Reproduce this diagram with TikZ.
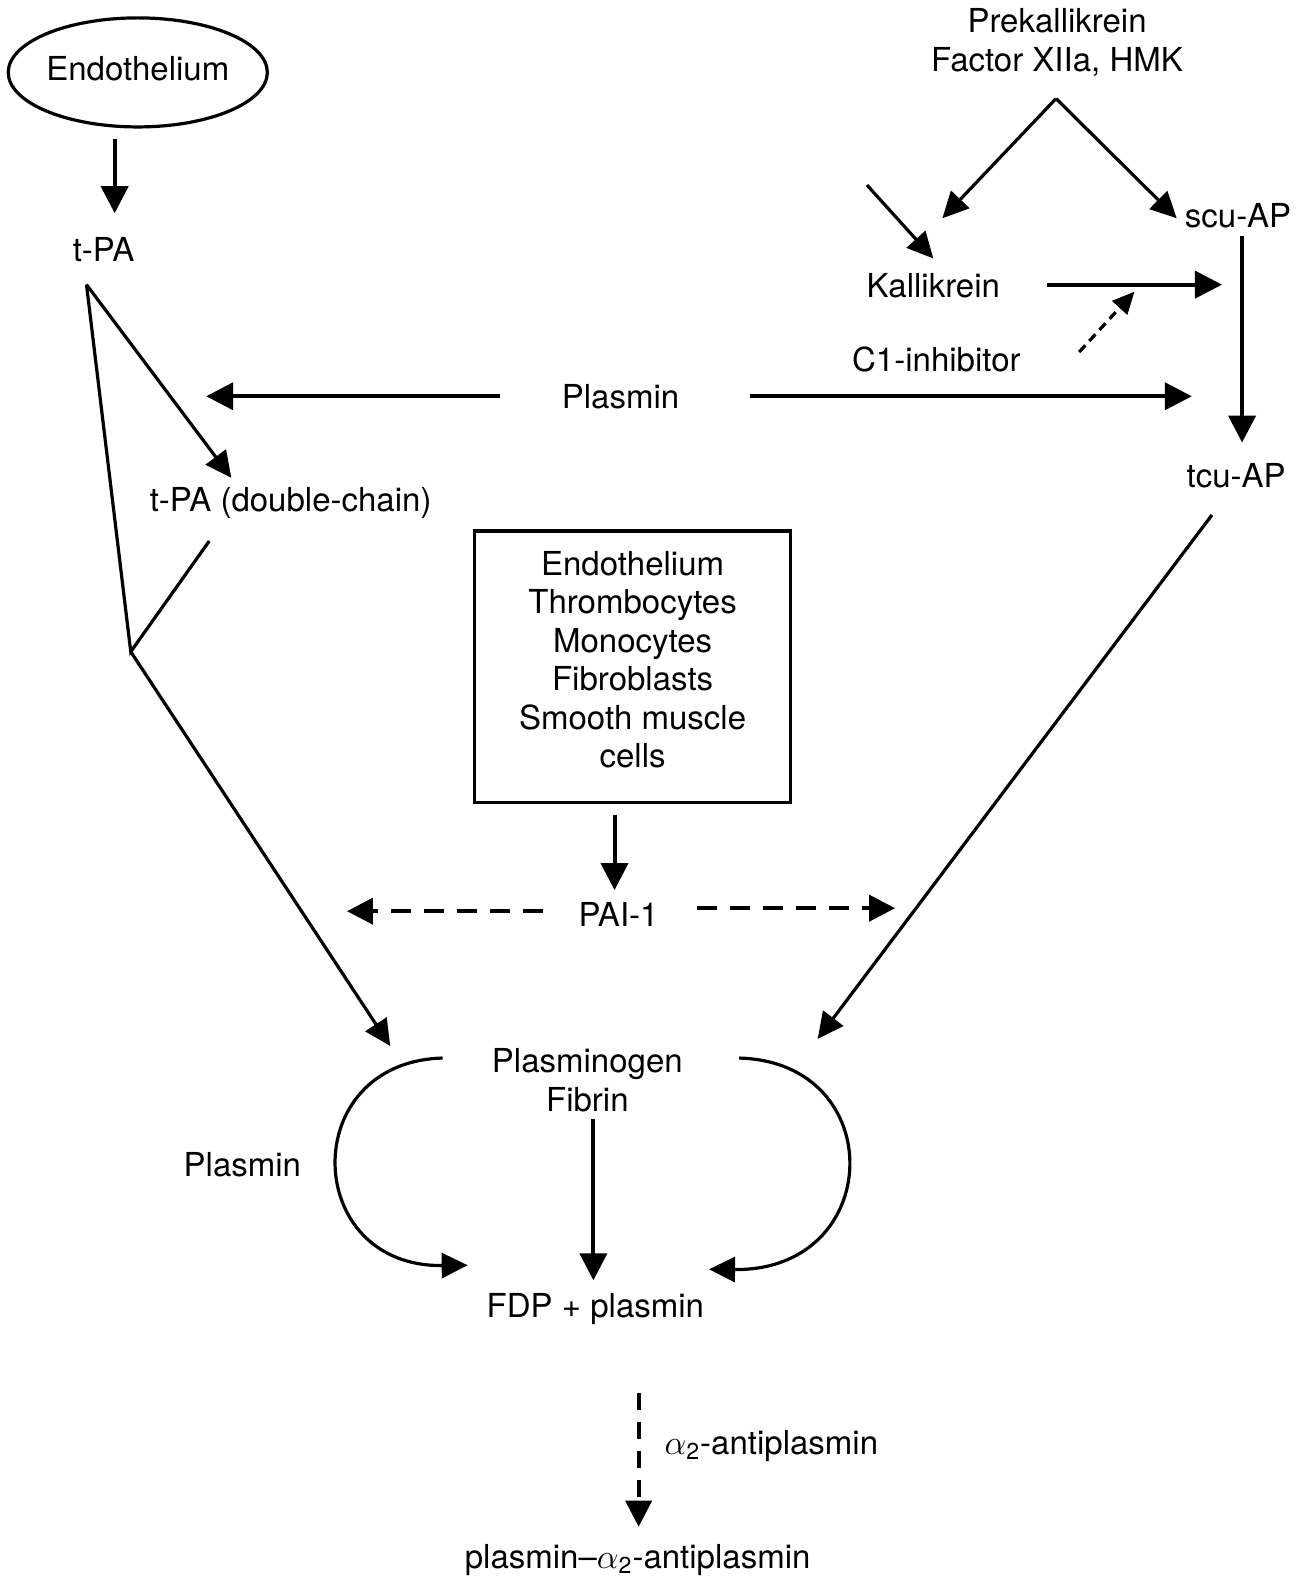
\documentclass[tikz,border=0pt]{standalone}
\usepackage{fontspec}
\setmainfont{TeX Gyre Heros}
\usetikzlibrary{arrows.meta,shapes.geometric}
\begin{document}
\begin{tikzpicture}[x=0.5027pt,y=-0.5027pt,
  every node/.style={font=\fontsize{16.5}{19.2}\selectfont, inner sep=0pt, align=center},
  tip/.style={-{Triangle[length=13.5pt,width=13.5pt]}},
  arr/.style={line width=2pt, tip},
  tharr/.style={line width=1.6pt, -{Triangle[length=13pt,width=12.5pt]}},
  thin/.style={line width=1.6pt},
  dasharr/.style={line width=2pt, dash pattern=on 10pt off 6.5pt, -{Triangle[length=13pt,width=13pt]}},
  smalldash/.style={line width=1.6pt, dash pattern=on 4.5pt off 3pt, -{Triangle[length=11pt,width=10pt]}},
  vdash/.style={line width=2pt, dash pattern=on 8.5pt off 6pt, -{Triangle[length=13pt,width=13pt]}}]
\useasboundingbox (0,0) rectangle (1295,1568);

% nodes
\node[draw, ellipse, line width=1.6pt, minimum width=129.5pt, minimum height=54.5pt] (endo) at (137,72) {};
\node (endotext) at (137,68) {Endothelium};
\node (tpa) at (103,248) {t-PA};
\node (tpad) at (289,500) {t-PA (double-chain)};
\node (plt) at (617,394) {Plasmin};
\node (prek) at (1051,42) {Prekallikrein\\Factor XIIa, HMK};
\node (scu) at (1231,214) {scu-AP};
\node (kall) at (928,284) {Kallikrein};
\node (c1) at (931,357) {C1-inhibitor};
\node (tcu) at (1229,473) {tcu-AP};
\node[draw, line width=1.6pt, minimum width=158pt, minimum height=135.7pt] (box) at (629,663) {};
\node (boxtext) at (629,656)
  {Endothelium\\Thrombocytes\\Monocytes\\Fibroblasts\\Smooth muscle\\cells};
\node (pai) at (615,909) {PAI-1};
\node (plg) at (584,1074) {Plasminogen\\Fibrin};
\node (pll) at (241,1158) {Plasmin};
\node (fdp) at (592,1302) {FDP + plasmin};
\node (a2) at (767,1438) {$\alpha$\textsubscript{2}-antiplasmin};
\node (cx) at (634,1551) {plasmin--$\alpha$\textsubscript{2}-antiplasmin};

% coordinates
\coordinate (e1) at (114,138);  \coordinate (e2) at (114,212);
\coordinate (v1) at (86,283);   \coordinate (d1) at (230,475);
\coordinate (j) at (130,648);   \coordinate (d2) at (208,538);
\coordinate (p1) at (388,1040);
\coordinate (pl1) at (497,394); \coordinate (pl2) at (205,394);
\coordinate (pr1) at (746,394); \coordinate (pr2) at (1185,394);
\coordinate (k0) at (1050,98);  \coordinate (k1) at (937,217); \coordinate (k2) at (1170,217);
\coordinate (s1) at (862,184);  \coordinate (s2) at (928,257);
\coordinate (ka1) at (1041,283); \coordinate (ka2) at (1215,283);
\coordinate (c1a) at (1073,350); \coordinate (c1b) at (1128,290);
\coordinate (u1) at (1235,235); \coordinate (u2) at (1235,440);
\coordinate (t1) at (1205,512); \coordinate (t2) at (813,1033);
\coordinate (b1) at (611,810);  \coordinate (b2) at (611,885);
\coordinate (pa1) at (540,906); \coordinate (pa2) at (345,906);
\coordinate (pb1) at (693,903); \coordinate (pb2) at (890,903);
\coordinate (la) at (440,1052); \coordinate (lb) at (465,1258);
\coordinate (ra) at (735,1052); \coordinate (rb) at (705,1262);
\coordinate (m1) at (590,1113); \coordinate (m2) at (590,1273);
\coordinate (q1) at (635,1385); \coordinate (q2) at (635,1518);

% connectors
\draw[arr] (e1) -- (e2);
\draw[tharr] (v1) -- (d1);
\draw[thin, line join=miter] (d2) -- (j) -- (v1);
\draw[tharr] (j) -- (p1);
\draw[arr] (pl1) -- (pl2);
\draw[arr] (pr1) -- (pr2);
\draw[tharr] (k0) -- (k1);
\draw[tharr] (k0) -- (k2);
\draw[tharr] (s1) -- (s2);
\draw[arr] (ka1) -- (ka2);
\draw[smalldash] (c1a) -- (c1b);
\draw[arr] (u1) -- (u2);
\draw[tharr] (t1) -- (t2);
\draw[arr] (b1) -- (b2);
\draw[dasharr] (pa1) -- (pa2);
\draw[dasharr] (pb1) -- (pb2);
\draw[tharr] (la) .. controls (295,1056) and (300,1260) .. (lb);
\draw[tharr] (ra) .. controls (885,1056) and (880,1264) .. (rb);
\draw[arr] (m1) -- (m2);
\draw[vdash] (q1) -- (q2);
\end{tikzpicture}
\end{document}
